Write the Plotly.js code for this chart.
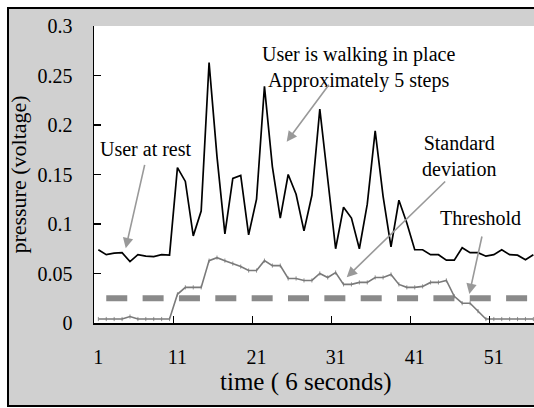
<!DOCTYPE html>
<html>
<head>
<meta charset="utf-8">
<script src="https://cdn.plot.ly/plotly-3.0.1.min.js"></script>
<style>
  html, body { margin: 0; padding: 0; background: #ffffff; overflow: hidden; }
  #frame { position: absolute; left: 7px; top: 7px; width: 540px; height: 400px; box-sizing: border-box;
           border: 2px solid #000; border-right: none; background: #d0d0d0; }
  #chart { position: absolute; left: 0; top: 0; width: 534px; height: 408px; }
  #chart svg text { font-family: 'Liberation Serif', serif !important; }
</style>
</head>
<body>
<div id="frame"></div>
<div id="chart"></div>
<script>
// time index (samples over 6 seconds)
const samples = [1,2,3,4,5,6,7,8,9,10,11,12,13,14,15,16,17,18,19,20,21,22,23,24,25,26,27,28,
                 29,30,31,32,33,34,35,36,37,38,39,40,41,42,43,44,45,46,47,48,49,50,51,52,53,54,55,56];
// pressure (voltage)
const pressure = [0.074,0.069,0.0705,0.071,0.062,0.069,0.0675,0.067,0.069,0.0685,
                  0.157,0.143,0.088,0.113,0.263,0.168,0.090,0.146,0.149,0.089,
                  0.125,0.239,0.158,0.106,0.150,0.130,0.093,0.129,0.216,0.143,
                  0.075,0.117,0.106,0.075,0.120,0.194,0.128,0.077,0.124,0.101,
                  0.074,0.074,0.069,0.069,0.0635,0.0635,0.076,0.071,0.071,0.0675,
                  0.069,0.074,0.069,0.0685,0.064,0.069];
// standard deviation
const stdDev = [0.004,0.004,0.004,0.004,0.0065,0.004,0.004,0.004,0.004,0.004,
                0.029,0.036,0.036,0.036,0.063,0.066,0.063,0.060,0.057,0.053,
                0.053,0.063,0.058,0.058,0.045,0.045,0.043,0.043,0.050,0.046,
                0.051,0.039,0.039,0.041,0.041,0.046,0.046,0.049,0.039,0.036,
                0.036,0.037,0.041,0.041,0.043,0.027,0.020,0.020,0.012,0.004,
                0.004,0.004,0.004,0.004,0.004,0.004];
// threshold level
const thresholdValue = 0.025;
const thresholdFrom = 2;
// tick labels
const tickLabels = ['1','11','21','31','41','51'];
const tickValues = tickLabels.map(Number);
const boundaryTicks = tickValues.slice(1).map(v => v - 0.5);

const FONT = 'Liberation Serif';

const thrX = samples.filter(s => s >= thresholdFrom);
const traces = [
  { x: thrX, y: thrX.map(() => thresholdValue), type: 'scatter', mode: 'lines',
    line: { color: '#8a8a8a', width: 6, dash: '21px,15.35px' }, hoverinfo: 'skip', name: 'Threshold' },
  { x: samples, y: stdDev, type: 'scatter', mode: 'lines+markers',
    line: { color: '#7a7a7a', width: 1.6 },
    marker: { symbol: 'line-ns-open', size: 3, line: { color: '#b0b0b0', width: 0.8 } }, name: 'Standard deviation' },
  { x: samples, y: pressure, type: 'scatter', mode: 'lines',
    line: { color: '#000000', width: 1.7 }, name: 'pressure' }
];

const gray = '#999999';
function arrow(tx, ty, hx, hy) {
  return { x: hx, y: hy, ax: tx, ay: ty, xref: 'x', yref: 'y', axref: 'x', ayref: 'y',
           text: '', showarrow: true, arrowhead: 2, arrowsize: 1.3, arrowwidth: 1.6, arrowcolor: gray, standoff: 0 };
}
function label(txt, x, y) {
  return { x: x, y: y, xref: 'x', yref: 'y', text: txt, showarrow: false,
           font: { family: FONT, size: 20, color: '#000' }, xanchor: 'center', yanchor: 'middle', align: 'center' };
}

const layout = {
  width: 534, height: 408,
  margin: { l: 94, r: 0, t: 26, b: 85, pad: 0 },
  paper_bgcolor: 'rgba(0,0,0,0)',
  plot_bgcolor: '#ffffff',
  showlegend: false,
  font: { family: FONT, size: 20, color: '#000' },
  xaxis: {
    range: [0.45, 56.08], type: 'linear',
    tickvals: tickValues, ticktext: tickLabels,
    ticks: '', showgrid: false, zeroline: false,
    showline: true, linecolor: '#000', linewidth: 1.5,
    tickfont: { family: FONT, size: 20, color: '#000' },
    ticklabelstandoff: 15,
    minor: { tickvals: boundaryTicks, ticks: 'inside', ticklen: 7, tickwidth: 1.2, tickcolor: '#000', showgrid: false }
  },
  yaxis: {
    range: [0, 0.3], dtick: 0.05, tick0: 0,
    ticks: 'inside', ticklen: 7, tickwidth: 1.2, tickcolor: '#000',
    showgrid: false, zeroline: false,
    showline: true, linecolor: '#000', linewidth: 1.5,
    tickfont: { family: FONT, size: 20, color: '#000' },
    ticklabelstandoff: 16,
    title: { text: 'pressure (voltage)', font: { family: FONT, size: 22, color: '#000' }, standoff: 5 }
  },
  annotations: [
    label('User at rest', 7.06, 0.1758),
    label('User is walking in place<br>Approximately 5 steps', 33.83, 0.2581),
    label('Standard<br>deviation', 46.59, 0.1687),
    label('Threshold', 49.31, 0.1056),
    arrow(6.90, 0.1613, 4.46, 0.0755),
    arrow(30.29, 0.2421, 24.81, 0.1831),
    arrow(45.04, 0.1444, 32.40, 0.0462),
    arrow(49.54, 0.0889, 47.90, 0.0293),
    { x: 0.4807, y: -0.2, xref: 'paper', yref: 'paper', text: 'time ( 6 seconds)', showarrow: false,
      font: { family: FONT, size: 25, color: '#000' }, xanchor: 'center', yanchor: 'middle' }
  ]
};

Plotly.newPlot('chart', traces, layout, { displayModeBar: false, staticPlot: true });
</script>
</body>
</html>
